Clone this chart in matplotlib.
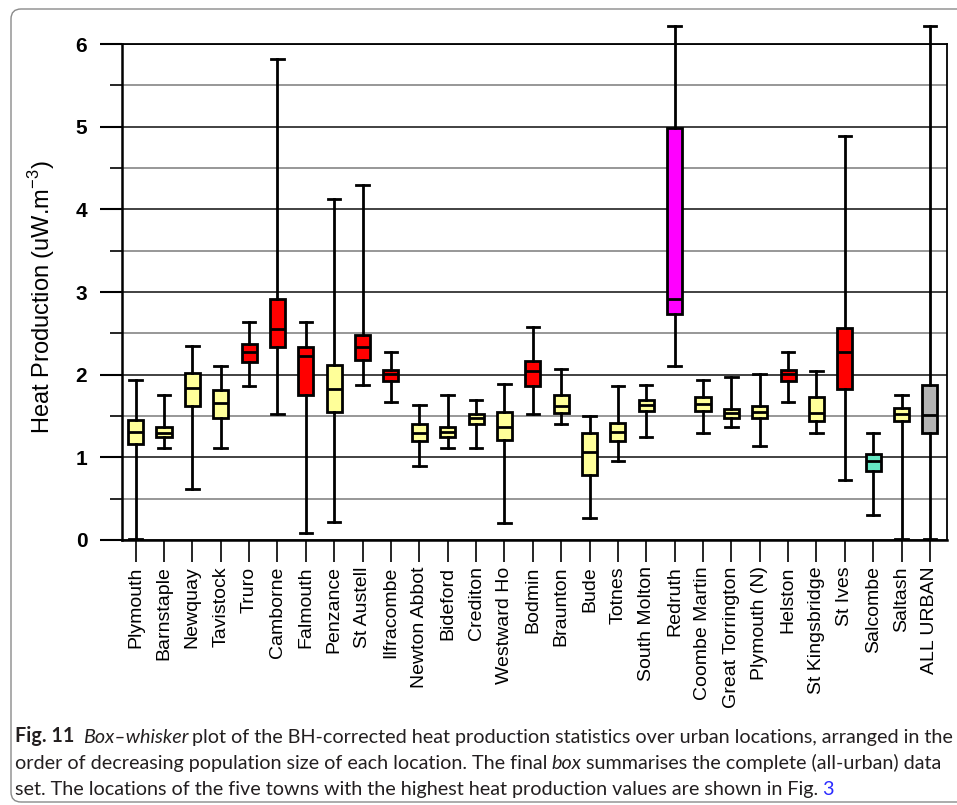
import matplotlib
matplotlib.use("Agg")
import matplotlib.pyplot as plt
from matplotlib.patches import FancyBboxPatch
from matplotlib.ticker import MultipleLocator

plt.rcParams["font.family"] = ["Liberation Sans", "DejaVu Sans"]
plt.rcParams["mathtext.fontset"] = "custom"
plt.rcParams["mathtext.rm"] = "Liberation Sans"

# 数据
towns = ["Plymouth", "Barnstaple", "Newquay", "Tavistock", "Truro", "Camborne",
         "Falmouth", "Penzance", "St Austell", "Ilfracombe", "Newton Abbot",
         "Bideford", "Crediton", "Westward Ho", "Bodmin", "Braunton", "Bude",
         "Totnes", "South Molton", "Redruth", "Coombe Martin", "Great Torrington",
         "Plymouth (N)", "Helston", "St Kingsbridge", "St Ives", "Salcombe",
         "Saltash", "ALL URBAN"]
whis_lo = [0.01, 1.11, 0.62, 1.11, 1.86, 1.52, 0.09, 0.22, 1.88, 1.67, 0.89,
           1.11, 1.11, 0.21, 1.53, 1.40, 0.27, 0.95, 1.25, 2.10, 1.29, 1.37,
           1.14, 1.67, 1.29, 0.72, 0.30, 0.01, 0.01]
q1 = [1.16, 1.25, 1.62, 1.47, 2.15, 2.34, 1.76, 1.55, 2.18, 1.92, 1.20,
      1.25, 1.40, 1.21, 1.86, 1.54, 0.79, 1.20, 1.56, 2.73, 1.56, 1.47,
      1.47, 1.92, 1.44, 1.83, 0.84, 1.44, 1.30]
med = [1.31, 1.30, 1.84, 1.66, 2.27, 2.55, 2.22, 1.83, 2.34, 2.01, 1.30,
       1.31, 1.47, 1.37, 2.04, 1.62, 1.06, 1.31, 1.63, 2.92, 1.65, 1.54,
       1.55, 2.01, 1.54, 2.28, 0.95, 1.53, 1.51]
q3 = [1.45, 1.37, 2.02, 1.82, 2.37, 2.92, 2.34, 2.12, 2.48, 2.06, 1.40,
      1.37, 1.53, 1.55, 2.16, 1.75, 1.30, 1.42, 1.69, 4.99, 1.73, 1.59,
      1.62, 2.06, 1.73, 2.56, 1.04, 1.60, 1.87]
whis_hi = [1.93, 1.76, 2.35, 2.11, 2.64, 5.82, 2.64, 4.12, 4.29, 2.28, 1.63,
           1.76, 1.69, 1.89, 2.58, 2.07, 1.50, 1.86, 1.88, 6.22, 1.94, 1.97,
           2.01, 2.28, 2.05, 4.89, 1.30, 1.76, 6.22]
box_colors = ["#FFFF99", "#FFFF99", "#FFFF99", "#FFFF99", "#FF0000", "#FF0000",
              "#FF0000", "#FFFF99", "#FF0000", "#FF0000", "#FFFF99",
              "#FFFF99", "#FFFF99", "#FFFF99", "#FF0000", "#FFFF99", "#FFFF99",
              "#FFFF99", "#FFFF99", "#FF00FF", "#FFFF99", "#FFFF99",
              "#FFFF99", "#FF0000", "#FFFF99", "#FF0000", "#66E8C4",
              "#FFFF99", "#B4B4B4"]

fig = plt.figure(figsize=(9.57, 8.05), dpi=100)
ax = fig.add_axes([0.1275, 0.3292, 0.862, 0.6161])

stats = []
for i in range(len(towns)):
    stats.append(dict(whislo=whis_lo[i], q1=q1[i], med=med[i], q3=q3[i],
                      whishi=whis_hi[i], label=towns[i]))

lw = 2.0
res = ax.bxp(stats, positions=range(len(towns)), widths=0.53, patch_artist=True,
             showfliers=False, capwidths=0.44,
             boxprops=dict(linewidth=lw, edgecolor="black"),
             medianprops=dict(linewidth=lw, color="black"),
             whiskerprops=dict(linewidth=lw, color="black"),
             capprops=dict(linewidth=lw, color="black"))
for patch, c in zip(res["boxes"], box_colors):
    patch.set_facecolor(c)
for art in res["whiskers"] + res["caps"]:
    art.set_clip_on(False)

ax.set_xlim(-0.48, len(towns) - 0.4)
ax.set_ylim(0, 6)
ax.yaxis.set_major_locator(MultipleLocator(1))
ax.yaxis.set_minor_locator(MultipleLocator(0.5))
ax.set_axisbelow(True)
ax.grid(axis="y", which="major", color="#333333", linewidth=1.3)
ax.grid(axis="y", which="minor", color="#7a7a7a", linewidth=1.1)

ax.set_xticks(range(len(towns)))
ax.set_xticklabels(towns, rotation=90, fontsize=14)
ax.tick_params(axis="x", direction="out", length=16, width=1.2, pad=3)
ax.tick_params(axis="y", which="major", direction="out", length=16, width=1.5,
               pad=9, labelsize=15)
ax.tick_params(axis="y", which="minor", direction="out", length=9, width=1.2)
for lab in ax.get_yticklabels():
    lab.set_fontweight("bold")

for side in ["left", "bottom"]:
    ax.spines[side].set_linewidth(1.8)
for side in ["top", "right"]:
    ax.spines[side].set_linewidth(1.3)

ax.set_ylabel("Heat Production (uW.m$^{-3}$)", fontsize=17)
ax.yaxis.set_label_coords(-0.079, 0.49)

# 外框
frame = FancyBboxPatch((0.11, 0.03), 9.8, 7.93,
                       boxstyle="round,pad=0,rounding_size=0.1",
                       transform=fig.dpi_scale_trans, facecolor="none",
                       edgecolor="#8a8a8a", linewidth=1.0, clip_on=False)
fig.add_artist(frame)

# 图注
cap_font = ["Lato", "Liberation Sans", "DejaVu Sans"]
cap_size = 14.8
caption = [
    [("Fig. 11", "bold", 0), ("Box–whisker", "italic", 6),
     ("plot of the BH-corrected heat production statistics over urban locations, arranged in the", "normal", 3)],
    [("order of decreasing population size of each location. The final", "normal", 0),
     ("box", "italic", 3), ("summarises the complete (all-urban) data", "normal", 3)],
    [("set. The locations of the five towns with the highest heat production values are shown in Fig.", "normal", 0),
     ("3", "blue", 3)],
]
line_y = [59, 33, 7]
cap_texts = []
line_ends = []
for parts, yb in zip(caption, line_y):
    prev = None
    for txt, kind, gap in parts:
        kw = dict(fontsize=cap_size, family=cap_font, color="#231f20")
        if kind == "bold":
            kw["fontweight"] = "bold"
        elif kind == "italic":
            kw["fontstyle"] = "italic"
        elif kind == "blue":
            kw["color"] = "#2b2bff"
        if prev is None:
            prev = fig.text(15 / 957, yb / 805, txt, ha="left", va="bottom", **kw)
        else:
            prev = ax.annotate(txt, xy=(1, 0), xycoords=prev, xytext=(gap, 0),
                               textcoords="offset points", ha="left", va="bottom",
                               annotation_clip=False, **kw)
        cap_texts.append(prev)
    line_ends.append(prev)

# 第一行宽度适配到约 940 像素
fig.canvas.draw()
r = fig.canvas.get_renderer()
right = line_ends[0].get_window_extent(r).x1
scale = (952 - 15) / (right - 15)
for t in cap_texts:
    t.set_fontsize(cap_size * scale)

fig.savefig("out.png", dpi=100)
